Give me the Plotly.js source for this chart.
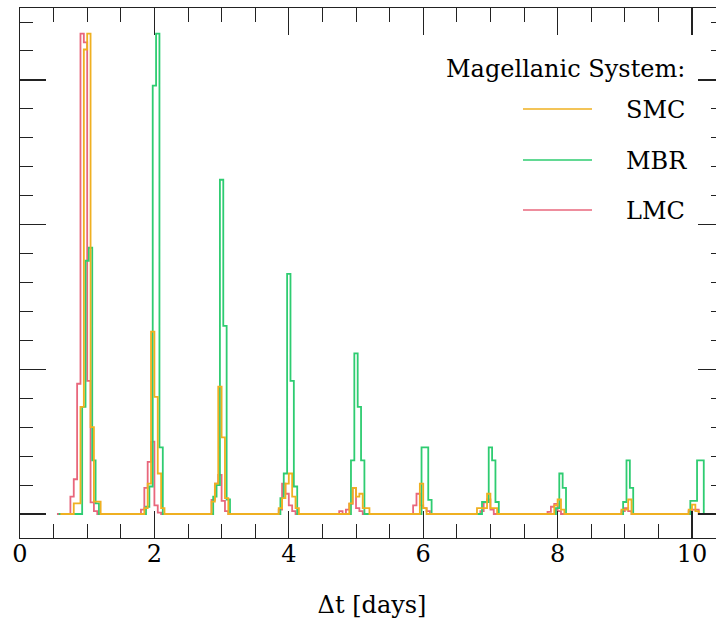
<!DOCTYPE html>
<html>
<head>
<meta charset="utf-8">
<script src="https://cdn.plot.ly/plotly-3.0.1.min.js"></script>
<style>
html, body { margin:0; padding:0; overflow:hidden; background:#fff; }
#chart { width:724px; height:619px; }
</style>
</head>
<body>
<div id="chart"></div>
<script>
// ---- data ----
const seriesNames = ["SMC", "MBR", "LMC"];
const binWidth = 0.05;          // days per histogram bin
const histEnd = 10.6;           // histograms continue past the right edge

// SMC: left edge of first bin of each peak, and bin values
const smcFirst = 0.60;
const smcStarts = [0.80, 1.85, 2.85, 3.85, 4.90, 5.95, 6.80, 7.95, 8.95, 9.95];
const smcValues = [
  [0.0074, 0.0074, 0.074, 0.321, 0.332, 0.060, 0.0085, 0.0085],
  [0.004, 0.021, 0.126, 0.081, 0.028, 0.004],
  [0.0085, 0.021, 0.088, 0.053, 0.011],
  [0.004, 0.011, 0.021, 0.028, 0.012, 0.004],
  [0.0074, 0.018, 0.012, 0.014, 0.004, 0.004],
  [0.021, 0.004],
  [0.004, 0.004, 0.004, 0.014, 0.004, 0.004],
  [0.006, 0.010, 0.003],
  [0.003, 0.003, 0.010],
  [0.003, 0.0065, 0.002]
];

// MBR
const mbrFirst = 0.575;
const mbrStarts = [0.925, 1.875, 2.875, 3.875, 4.925, 5.975, 6.875, 7.975, 8.975, 9.975];
const mbrValues = [
  [0.074, 0.175, 0.184, 0.037, 0.0074],
  [0.005, 0.019, 0.296, 0.332, 0.046],
  [0.012, 0.020, 0.231, 0.130, 0.010],
  [0.011, 0.028, 0.166, 0.092, 0.019],
  [0.037, 0.111, 0.074, 0.037],
  [0.046, 0.046, 0.0097],
  [0.0083, 0.0083, 0.046, 0.037, 0.0083],
  [0.004, 0.028, 0.018],
  [0.0083, 0.037, 0.018],
  [0.009, 0.009, 0.037, 0.037]
];

// LMC
const lmcFirst = 0.55;
const lmcStarts = [0.75, 1.80, 2.85, 3.85, 4.75, 5.85, 6.85, 7.85, 8.95, 9.95];
const lmcValues = [
  [0.012, 0.024, 0.090, 0.332, 0.326, 0.092, 0.008, 0.002],
  [0.003, 0.018, 0.036, 0.050, 0.006, 0.001],
  [0.0097, 0.021, 0.027, 0.009, 0.002],
  [0.003, 0.021, 0.014, 0.006, 0.002],
  [0.002, 0.0, 0.003, 0.007, 0.018, 0.004, 0.002],
  [0.006, 0.014, 0.006, 0.004, 0.002],
  [0.002, 0.008, 0.010, 0.003],
  [0.0015, 0.005, 0.007, 0.002],
  [0.002, 0.004, 0.002],
  [0.002, 0.003, 0.003]
];

const colors = { SMC: "#EFB021", MBR: "#2ECC71", LMC: "#E8677C" };

// ---- build step histograms ----
function buildSteps(first, starts, values) {
  const x = [first], y = [0];
  starts.forEach((s, i) => {
    const vals = values[i];
    vals.forEach((v, j) => {
      x.push(+(s + j * binWidth).toFixed(4));
      y.push(v);
    });
    x.push(+(s + vals.length * binWidth).toFixed(4));
    y.push(0);
  });
  x.push(histEnd); y.push(0);
  return { x, y };
}

const smc = buildSteps(smcFirst, smcStarts, smcValues);
const mbr = buildSteps(mbrFirst, mbrStarts, mbrValues);
const lmc = buildSteps(lmcFirst, lmcStarts, lmcValues);

const lw = 1.8;
const traces = [
  { x: lmc.x, y: lmc.y, name: "LMC", mode: "lines", line: { shape: "hv", color: colors.LMC, width: lw }, showlegend: false, hoverinfo: "skip" },
  { x: mbr.x, y: mbr.y, name: "MBR", mode: "lines", line: { shape: "hv", color: colors.MBR, width: lw }, showlegend: false, hoverinfo: "skip" },
  { x: smc.x, y: smc.y, name: "SMC", mode: "lines", line: { shape: "hv", color: colors.SMC, width: lw }, showlegend: false, hoverinfo: "skip" }
];

// ---- layout ----
const font = "'DejaVu Serif', 'Liberation Serif', serif";
const axCol = "#222";
const L = 20, T = 8, W = 724, H = 619, B = 81;
const plotW = W - L, plotH = H - T - B;
const px = p => (p - L) / plotW;
const py = p => (H - B - p) / plotH;

const legendRows = [ {name:"SMC", y:109}, {name:"MBR", y:160}, {name:"LMC", y:210} ];
const shapes = legendRows.map(r => ({
  type: "line", xref: "paper", yref: "paper",
  x0: px(523), x1: px(592), y0: py(r.y), y1: py(r.y),
  line: { color: colors[r.name], width: 1.5 }
}));
const annotations = legendRows.map(r => ({
  xref: "paper", yref: "paper", x: px(624), y: py(r.y + 1),
  xanchor: "left", yanchor: "middle", showarrow: false,
  text: r.name, font: { family: font, size: 24, color: "#000" }
}));
annotations.push({
  xref: "paper", yref: "paper", x: px(687), y: py(69),
  xanchor: "right", yanchor: "middle", showarrow: false,
  text: "Magellanic System:", font: { family: font, size: 24, color: "#000" }
});

const layout = {
  width: W, height: H,
  margin: { l: L, r: 0, t: T, b: B, pad: 0 },
  paper_bgcolor: "#fff", plot_bgcolor: "#fff",
  showlegend: false,
  font: { family: font, size: 24, color: "#000" },
  xaxis: {
    range: [0, 10.476], tick0: 0, dtick: 2,
    ticks: "inside", ticklen: 27, tickwidth: 1.2, tickcolor: axCol,
    minor: { dtick: 0.5, ticks: "inside", ticklen: 14, tickwidth: 1, tickcolor: axCol },
    showline: true, linecolor: axCol, linewidth: 1.2, mirror: "allticks",
    showgrid: false, zeroline: false,
    tickfont: { family: font, size: 24, color: "#000" },
    ticklabelstandoff: -6,
    title: { text: "Δt [days]", font: { family: font, size: 24, color: "#000" }, standoff: 30 }
  },
  yaxis: {
    range: [-0.01659, 0.34969], tick0: 0, dtick: 0.1,
    ticks: "inside", ticklen: 26, tickwidth: 1.2, tickcolor: axCol,
    minor: { dtick: 0.02, ticks: "inside", ticklen: 13, tickwidth: 1, tickcolor: axCol },
    showline: true, linecolor: axCol, linewidth: 1.2, mirror: "allticks",
    showgrid: false, zeroline: false, showticklabels: false
  },
  shapes, annotations
};

Plotly.newPlot("chart", traces, layout, { staticPlot: true, displayModeBar: false });
</script>
</body>
</html>
